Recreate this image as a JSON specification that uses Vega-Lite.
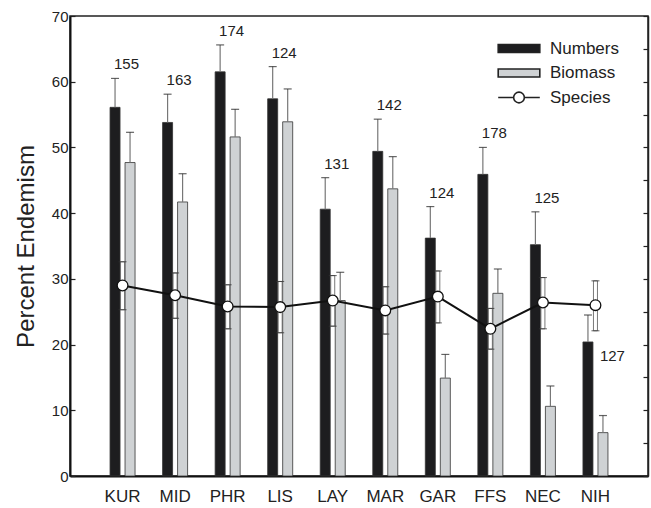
{
  "$schema": "https://vega.github.io/schema/vega-lite/v6.json",
  "width": 578,
  "height": 460,
  "autosize": {"type": "none"},
  "padding": {"left": 70, "top": 16, "right": 3, "bottom": 32},
  "config": {
    "font": "Liberation Sans",
    "view": {"stroke": "#222", "strokeWidth": 1.5}
  },
  "datasets": {
    "bars": [
      {"site": "KUR", "series": "Numbers", "value": 56.1, "hi": 60.5, "n": 155},
      {"site": "MID", "series": "Numbers", "value": 53.8, "hi": 58.1, "n": 163},
      {"site": "PHR", "series": "Numbers", "value": 61.5, "hi": 65.6, "n": 174},
      {"site": "LIS", "series": "Numbers", "value": 57.4, "hi": 62.3, "n": 124},
      {"site": "LAY", "series": "Numbers", "value": 40.6, "hi": 45.4, "n": 131},
      {"site": "MAR", "series": "Numbers", "value": 49.4, "hi": 54.3, "n": 142},
      {"site": "GAR", "series": "Numbers", "value": 36.2, "hi": 41.0, "n": 124},
      {"site": "FFS", "series": "Numbers", "value": 45.9, "hi": 50.0, "n": 178},
      {"site": "NEC", "series": "Numbers", "value": 35.2, "hi": 40.2, "n": 125},
      {"site": "NIH", "series": "Numbers", "value": 20.4, "hi": 24.5, "n": 127},
      {"site": "KUR", "series": "Biomass", "value": 47.7, "hi": 52.3},
      {"site": "MID", "series": "Biomass", "value": 41.7, "hi": 46.0},
      {"site": "PHR", "series": "Biomass", "value": 51.6, "hi": 55.8},
      {"site": "LIS", "series": "Biomass", "value": 53.9, "hi": 58.9},
      {"site": "LAY", "series": "Biomass", "value": 26.7, "hi": 31.0},
      {"site": "MAR", "series": "Biomass", "value": 43.7, "hi": 48.6},
      {"site": "GAR", "series": "Biomass", "value": 14.9, "hi": 18.5},
      {"site": "FFS", "series": "Biomass", "value": 27.8, "hi": 31.5},
      {"site": "NEC", "series": "Biomass", "value": 10.6, "hi": 13.7},
      {"site": "NIH", "series": "Biomass", "value": 6.6, "hi": 9.2}
    ],
    "species": [
      {"site": "KUR", "value": 29.0, "lo": 25.3, "hi": 32.6},
      {"site": "MID", "value": 27.5, "lo": 24.0, "hi": 30.9},
      {"site": "PHR", "value": 25.8, "lo": 22.4, "hi": 29.1},
      {"site": "LIS", "value": 25.7, "lo": 21.8, "hi": 29.6},
      {"site": "LAY", "value": 26.7, "lo": 22.8, "hi": 30.5},
      {"site": "MAR", "value": 25.2, "lo": 21.6, "hi": 28.8},
      {"site": "GAR", "value": 27.3, "lo": 23.3, "hi": 31.2},
      {"site": "FFS", "value": 22.4, "lo": 19.3, "hi": 25.5},
      {"site": "NEC", "value": 26.4, "lo": 22.4, "hi": 30.2},
      {"site": "NIH", "value": 26.0, "lo": 22.1, "hi": 29.7}
    ]
  },
  "layer": [
    {
      "encoding": {
        "x": {
          "field": "site", "type": "nominal",
          "scale": {"domain": ["KUR", "MID", "PHR", "LIS", "LAY", "MAR", "GAR", "FFS", "NEC", "NIH"], "paddingInner": 0.524, "paddingOuter": 0.762},
          "axis": {"title": null, "ticks": false, "labelFontSize": 17, "labelPadding": 12, "labelAngle": 0, "domainColor": "#111", "domainWidth": 2, "labelColor": "#222"}
        }
      },
      "layer": [
        {
          "data": {"name": "bars"},
          "mark": {"type": "bar", "stroke": "#333", "strokeWidth": 0.8},
          "encoding": {
            "xOffset": {"field": "series", "type": "nominal", "scale": {"domain": ["Numbers", "Biomass"], "paddingInner": 0.3333, "paddingOuter": 0}},
            "y": {
              "field": "value", "type": "quantitative",
              "scale": {"domain": [0, 70], "nice": false},
              "axis": {"title": "Percent Endemism", "values": [0, 5, 10, 15, 20, 25, 30, 35, 40, 45, 50, 55, 60, 65, 70], "labelExpr": "datum.value % 10 === 0 ? datum.label : ''", "tickSize": -5, "tickColor": "#222", "tickWidth": 1.2, "domainColor": "#111", "domainWidth": 2, "labelFontSize": 15, "labelPadding": 7, "labelColor": "#222", "titleFontSize": 24, "titleFontWeight": "normal", "titleColor": "#222", "titlePadding": 13, "grid": false}
            },
            "color": {"field": "series", "type": "nominal", "scale": {"domain": ["Numbers", "Biomass"], "range": ["#1d1d1f", "#cfd2d4"]}, "legend": null}
          }
        },
        {
          "data": {"name": "bars"},
          "mark": {"type": "rule", "color": "#777", "strokeWidth": 1.2},
          "encoding": {
            "xOffset": {"field": "series", "type": "nominal"},
            "y": {"field": "value", "type": "quantitative"},
            "y2": {"field": "hi"}
          }
        },
        {
          "data": {"name": "bars"},
          "mark": {"type": "tick", "color": "#222", "thickness": 1.2, "size": 8},
          "encoding": {
            "xOffset": {"field": "series", "type": "nominal"},
            "y": {"field": "hi", "type": "quantitative"}
          }
        },
        {
          "data": {"name": "species"},
          "mark": {"type": "bar", "size": 4, "fill": "#ffffff", "stroke": "#555", "strokeWidth": 0.8},
          "encoding": {
            "y": {"field": "lo", "type": "quantitative"},
            "y2": {"field": "hi"}
          }
        },
        {
          "data": {"name": "species"},
          "mark": {"type": "tick", "color": "#333", "thickness": 1.1, "size": 8},
          "encoding": {"y": {"field": "hi", "type": "quantitative"}}
        },
        {
          "data": {"name": "species"},
          "mark": {"type": "tick", "color": "#333", "thickness": 1.1, "size": 8},
          "encoding": {"y": {"field": "lo", "type": "quantitative"}}
        },
        {
          "data": {"name": "species"},
          "mark": {"type": "line", "color": "#111", "strokeWidth": 2},
          "encoding": {"y": {"field": "value", "type": "quantitative"}}
        },
        {
          "data": {"name": "species"},
          "mark": {"type": "point", "filled": true, "fill": "#ffffff", "stroke": "#111", "strokeWidth": 1.3, "size": 115, "opacity": 1},
          "encoding": {"y": {"field": "value", "type": "quantitative"}}
        },
        {
          "data": {"name": "bars"},
          "transform": [{"filter": "datum.series === 'Numbers' && datum.site !== 'NIH'"}],
          "mark": {"type": "text", "fontSize": 15, "color": "#222", "baseline": "middle", "dy": -14, "dx": 4},
          "encoding": {
            "y": {"field": "hi", "type": "quantitative"},
            "text": {"field": "n"}
          }
        },
        {
          "data": {"name": "bars"},
          "transform": [{"filter": "datum.series === 'Numbers' && datum.site === 'NIH'"}],
          "mark": {"type": "text", "fontSize": 15, "color": "#222", "baseline": "middle", "dy": 14, "dx": 17},
          "encoding": {
            "y": {"field": "value", "type": "quantitative"},
            "text": {"field": "n"}
          }
        },
        {
          "data": {"values": [{"series": "Numbers"}, {"series": "Biomass"}, {"series": "Species"}]},
          "mark": {"type": "point", "filled": true, "opacity": 1, "stroke": "#222", "strokeWidth": 1.6},
          "encoding": {
            "y": {"field": "none", "type": "quantitative"},
            "fill": {
              "field": "series", "type": "nominal",
              "scale": {"domain": ["Numbers", "Biomass", "Species"], "range": ["#1d1d1f", "#cfd2d4", "#ffffff"]},
              "legend": {"title": null, "orient": "none", "legendX": 440, "legendY": 23.5, "labelFontSize": 17, "labelColor": "#222", "labelOffset": 22, "rowPadding": 7.5, "symbolSize": 256, "symbolStrokeColor": "#222", "symbolStrokeWidth": 1.6, "symbolOpacity": 1}
            },
            "shape": {
              "field": "series", "type": "nominal",
              "scale": {"domain": ["Numbers", "Biomass", "Species"], "range": ["M-2.6,-0.5H2.6V0.5H-2.6Z", "M-2.6,-0.5H2.6V0.5H-2.6Z", "M-2.6,0H-0.67M0.67,0H2.6M-0.67,0A0.67,0.67,0,1,0,0.67,0A0.67,0.67,0,1,0,-0.67,0Z"]}
            }
          }
        }
      ]
    },
    {
      "data": {"name": "species"},
      "mark": {"type": "rule", "opacity": 0},
      "encoding": {
        "y": {
          "field": "value", "type": "quantitative",
          "axis": {"orient": "right", "title": null, "labels": false, "values": [0, 5, 10, 15, 20, 25, 30, 35, 40, 45, 50, 55, 60, 65, 70], "tickSize": -5, "tickColor": "#222", "tickWidth": 1.2, "domainColor": "#222", "domainWidth": 1.5, "grid": false}
        }
      }
    }
  ],
  "resolve": {"axis": {"y": "independent"}}
}
